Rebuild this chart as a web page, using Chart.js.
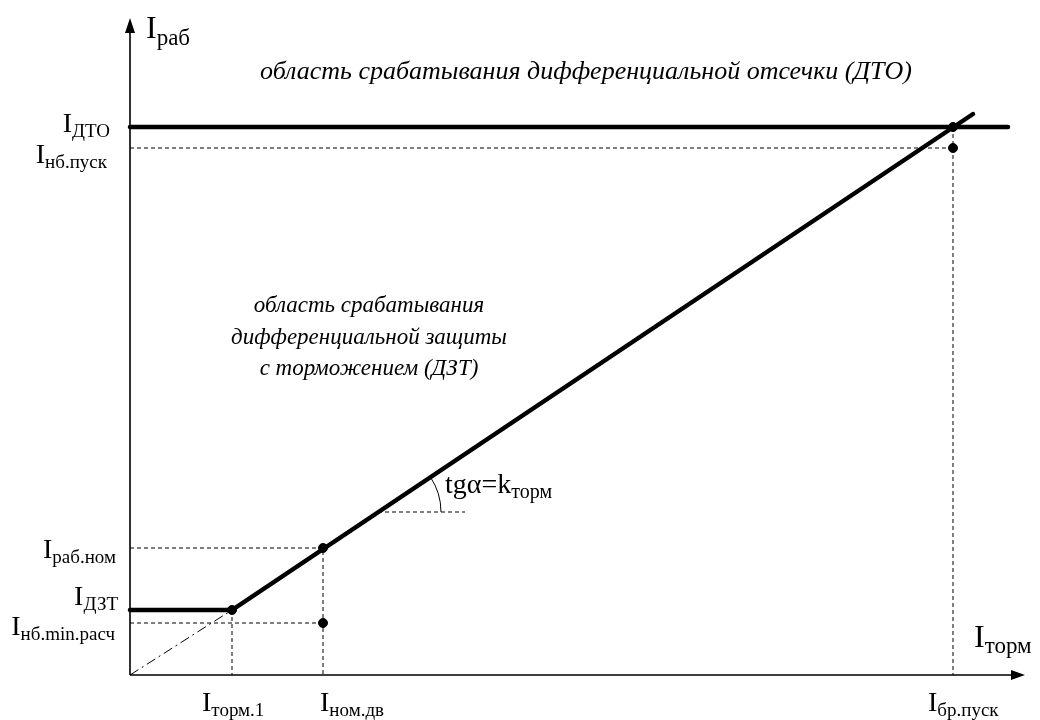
<!DOCTYPE html>
<html lang="ru">
<head>
<meta charset="utf-8">
<title>Характеристика ДЗТ</title>
<script src="https://cdn.jsdelivr.net/npm/chart.js@4.4.0/dist/chart.umd.min.js"></script>
<style>
	html, body { margin: 0; padding: 0; background: #fff; }
	#wrap { width: 1040px; height: 720px; position: relative; }
</style>
</head>
<body>
<div id="wrap"><canvas id="chart"></canvas></div>
<script>
(() => {
	'use strict'

	// Axis extent in relative units (I_торм across, I_раб up)
	const xMax = 895;
	const yMax = 657;

	// Marks on the braking current axis
	const xMarks = [102, 193, 823];
	const xMarkNames = ['торм.1', 'ном.дв', 'бр.пуск'];

	// Marks on the operating current axis
	const yMarks = [548, 527, 127, 65, 52];
	const yMarkNames = ['ДТО', 'нб.пуск', 'раб.ном', 'ДЗТ', 'нб.min.расч'];

	// Trip characteristic: flat part, then braking slope
	const charX = [0, 102, 843];
	const charY = [65, 65, 561];

	// Differential cut-off level
	const dtoX = [0, 878];
	const dtoY = [548, 548];

	// Slope continued back to the origin
	const extX = [0, 102];
	const extY = [0, 65];

	// Marked points
	const dotX = [102, 193, 193, 823, 823];
	const dotY = [65, 127, 52, 548, 527];

	// Base line for the slope angle
	const baseX = [248, 335];
	const baseY = [163, 163];

	const toPoints = (xs, ys) => xs.map((x, i) => ({ x: x, y: ys[i] }));

	// Dashed projection lines, split with gaps
	const guides = [
		[[0, yMarks[1]], [xMarks[2], yMarks[1]]],
		[[xMarks[2], yMarks[0]], [xMarks[2], 0]],
		[[0, yMarks[2]], [xMarks[1], yMarks[2]], [xMarks[1], 0]],
		[[0, yMarks[4]], [xMarks[1], yMarks[4]]],
		[[xMarks[0], yMarks[3]], [xMarks[0], 0]],
		[[baseX[0], baseY[0]], [baseX[1], baseY[1]]],
	];
	const guideData = [];
	guides.forEach((seg, i) => {
		if (i > 0) guideData.push({ x: seg[0][0], y: NaN });
		seg.forEach((p) => guideData.push({ x: p[0], y: p[1] }));
	});

	const serif = '"Liberation Serif", "Times New Roman", serif';

	// Draws "I" with a subscript
	function drawSub(ctx, x, y, sub, align, big, small, drop) {
		ctx.font = big + 'px ' + serif;
		const w1 = ctx.measureText('I').width;
		ctx.font = small + 'px ' + serif;
		const w2 = ctx.measureText(sub).width;
		const left = align === 'right' ? x - w1 - w2 : x;
		ctx.textAlign = 'left';
		ctx.textBaseline = 'alphabetic';
		ctx.font = big + 'px ' + serif;
		ctx.fillText('I', left, y);
		ctx.font = small + 'px ' + serif;
		ctx.fillText(sub, left + w1, y + drop);
	}

	const annotations = {
		id: 'annotations',
		afterDatasetsDraw(chart) {
			const ctx = chart.ctx;
			const xs = chart.scales.x;
			const ys = chart.scales.y;
			const x0 = xs.getPixelForValue(0);
			const y0 = ys.getPixelForValue(0);
			const xe = xs.getPixelForValue(xMax);
			const ye = ys.getPixelForValue(yMax);
			ctx.save();
			ctx.fillStyle = '#000';
			ctx.strokeStyle = '#000';

			// axes with arrows
			ctx.lineWidth = 1.6;
			ctx.beginPath();
			ctx.moveTo(x0, y0);
			ctx.lineTo(x0, ye + 8);
			ctx.moveTo(x0, y0);
			ctx.lineTo(xe - 8, y0);
			ctx.stroke();
			ctx.beginPath();
			ctx.moveTo(x0, ye);
			ctx.lineTo(x0 - 5, ye + 15);
			ctx.lineTo(x0 + 5, ye + 15);
			ctx.closePath();
			ctx.moveTo(xe, y0);
			ctx.lineTo(xe - 14, y0 - 5);
			ctx.lineTo(xe - 14, y0 + 5);
			ctx.closePath();
			ctx.fill();

			// angle arc
			const vx = xs.getPixelForValue(baseX[0]);
			const vy = ys.getPixelForValue(baseY[0]);
			const ang = Math.atan2(
				ys.getPixelForValue(charY[2]) - ys.getPixelForValue(charY[1]),
				xs.getPixelForValue(charX[2]) - xs.getPixelForValue(charX[1]));
			ctx.lineWidth = 1;
			ctx.beginPath();
			ctx.arc(vx, vy, 63, ang, 0);
			ctx.stroke();

			// axis names
			drawSub(ctx, x0 + 16, ye + 20, 'раб', 'left', 32, 23, 7);
			drawSub(ctx, xe - 51, y0 - 28, 'торм', 'left', 32, 23, 6);

			// y marks: right edge offset, baseline offset
			const yLay = [[-20, 5], [-23, 15], [-14, 10], [-12, -5], [-15, 12]];
			yMarks.forEach((v, i) => {
				drawSub(ctx, x0 + yLay[i][0], ys.getPixelForValue(v) + yLay[i][1], yMarkNames[i], 'right', 28, 19, 5);
			});

			// x marks: left offset
			const xLay = [-30, -3, -25];
			xMarks.forEach((v, i) => {
				drawSub(ctx, xs.getPixelForValue(v) + xLay[i], y0 + 36, xMarkNames[i], 'left', 28, 19, 5);
			});

			// slope label
			ctx.font = '28px ' + serif;
			const t = 'tgα=k';
			ctx.fillText(t, vx + 67, vy - 19);
			const tw = ctx.measureText(t).width;
			ctx.font = '20px ' + serif;
			ctx.fillText('торм', vx + 67 + tw, vy - 14);

			// zone captions
			ctx.textAlign = 'center';
			ctx.font = 'italic 26px ' + serif;
			ctx.fillText('область срабатывания дифференциальной отсечки (ДТО)', 586, 79);
			ctx.font = 'italic 23px ' + serif;
			ctx.fillText('область срабатывания', 369, 312);
			ctx.fillText('дифференциальной защиты', 369, 344);
			ctx.fillText('с торможением (ДЗТ)', 369, 375);
			ctx.restore();
		}
	};

	const thick = {
		borderColor: '#000',
		borderWidth: 4.5,
		borderCapStyle: 'round',
		pointRadius: 0,
		showLine: true,
		fill: false,
		clip: false,
	};

	const data = {
		datasets: [
			Object.assign({ label: 'ДТО', data: toPoints(dtoX, dtoY) }, thick),
			Object.assign({ label: 'ДЗТ', data: toPoints(charX, charY) }, thick),
			{
				label: 'продолжение',
				data: toPoints(extX, extY),
				borderColor: '#000',
				borderWidth: 1,
				borderDash: [10, 4, 2, 4],
				pointRadius: 0,
				showLine: true,
				clip: false,
			},
			{
				label: 'проекции',
				data: guideData,
				borderColor: '#000',
				borderWidth: 1,
				borderDash: [4, 3],
				pointRadius: 0,
				showLine: true,
				spanGaps: false,
				clip: false,
			},
			{
				label: 'точки',
				data: toPoints(dotX, dotY),
				backgroundColor: '#000',
				borderColor: '#000',
				pointRadius: 4.5,
				showLine: false,
				clip: false,
			},
		]
	};

	const config = {
		type: 'scatter',
		data: data,
		options: {
			responsive: true,
			maintainAspectRatio: false,
			animation: false,
			layout: {
				padding: { left: 130, right: 15, top: 18, bottom: 45 }
			},
			scales: {
				x: { type: 'linear', min: 0, max: xMax, display: false },
				y: { type: 'linear', min: 0, max: yMax, display: false }
			},
			plugins: {
				legend: { display: false },
				tooltip: { enabled: false },
				title: { display: false }
			}
		},
		plugins: [annotations]
	};

	new Chart(document.getElementById('chart'), config);
})()
</script>
</body>
</html>
